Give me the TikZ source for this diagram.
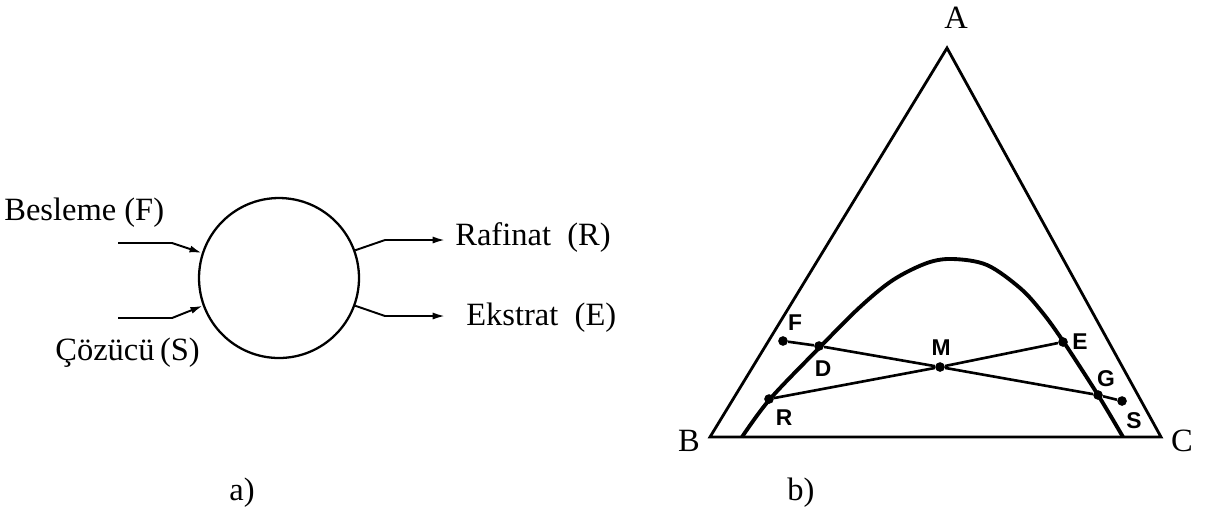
\documentclass[tikz,border=0pt]{standalone}
\usepackage{fontspec}
\setmainfont{Liberation Serif}
\newfontfamily\lab{Liberation Sans}
\usetikzlibrary{arrows.meta}
\begin{document}
\begin{tikzpicture}[x=0.02cm,y=-0.02cm,
  txt/.style={font=\fontsize{18.5}{21}\selectfont, inner sep=0pt},
  ptlab/.style={font=\lab\bfseries\fontsize{13}{15}\selectfont, inner sep=0pt},
  flow/.style={line width=1.1pt, -{Latex[length=7pt,width=4pt]}},
  tri/.style={line width=1.6pt, line join=miter},
  tie/.style={line width=1.5pt},
  dot/.style={circle, fill=black, inner sep=0pt, minimum size=5.5pt}]
\useasboundingbox (0,0) rectangle (1219,512);
% ---- a) ----
\node[draw, circle, line width=1.3pt, minimum size=3.2cm, inner sep=0pt] (tank) at (279,278) {};
\coordinate (f0) at (118,243); \coordinate (f1) at (172,243);
\coordinate (s0) at (118,318); \coordinate (s1) at (172,318);
\coordinate (r1) at (385,240); \coordinate (r2) at (445,240);
\coordinate (e1) at (385,316); \coordinate (e2) at (445,316);
\draw[flow] (f0) -- (f1) -- (tank.162);
\draw[flow] (s0) -- (s1) -- (tank.200);
\draw[flow] (tank.20) -- (r1) -- (r2);
\draw[flow] (tank.-20) -- (e1) -- (e2);
\node[txt, anchor=west] (lF) at (4,213) {Besleme (F)};
\node[txt, anchor=west] (lS) at (55,353) {Çözücü\,(S)};
\node[txt, anchor=west] (lR) at (455,238) {Rafinat\enspace(R)};
\node[txt, anchor=west] (lE) at (466,318) {Ekstrat\enspace(E)};
\node[txt] (la) at (242,493) {a)};
% ---- b) ----
\coordinate (A) at (947,48);
\coordinate (B) at (710,437);
\coordinate (C) at (1161,437);
\draw[tri] (A) -- (B) -- (C) -- cycle;
\node[txt] (lA) at (956,18) {A};
\node[txt] (lB) at (689,441) {B};
\node[txt] (lC) at (1182,441) {C};
\node[txt] (lb) at (801,493) {b)};
\draw[line width=2.2pt] plot[smooth, tension=0.55] coordinates {(742,437) (770,399) (820,347) (860,307) (893,280) (927,263) (953,259) (987,265) (1020,288) (1042,312) (1063,341) (1098,395) (1123,437)};
\node[dot] (F) at (783,341) {};
\node[dot] (D) at (819,346) {};
\node[dot] (M) at (940,367) {};
\node[dot] (E) at (1063,342) {};
\node[dot] (G) at (1098,395) {};
\node[dot] (S) at (1122,401) {};
\node[dot] (R) at (769,399) {};
\draw[tie] (F) -- (D) -- (M) -- (G) -- (S);
\draw[tie] (R) -- (M) -- (E);
\node[ptlab] (tF) at (795,323) {F};
\node[ptlab] (tD) at (823,369) {D};
\node[ptlab] (tM) at (941,348) {M};
\node[ptlab] (tE) at (1080,342) {E};
\node[ptlab] (tG) at (1106,379) {G};
\node[ptlab] (tS) at (1134,421) {S};
\node[ptlab] (tR) at (784,418) {R};
\end{tikzpicture}
\end{document}
